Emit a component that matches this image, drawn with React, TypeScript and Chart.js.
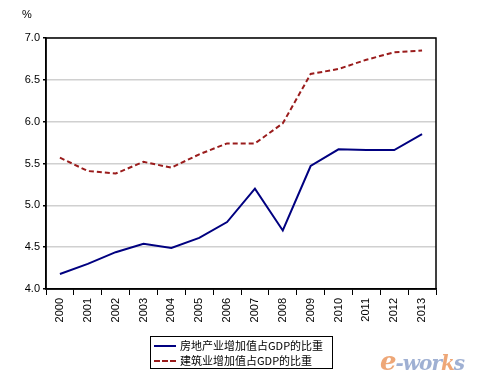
import React, { useEffect, useRef } from "react";
import { Chart, registerables } from "chart.js";

Chart.register(...registerables);

const years = ["2000","2001","2002","2003","2004","2005","2006","2007","2008","2009","2010","2011","2012","2013"];
const realEstate = [4.18, 4.30, 4.44, 4.54, 4.49, 4.61, 4.80, 5.20, 4.70, 5.47, 5.67, 5.66, 5.66, 5.85];
const construction = [5.57, 5.41, 5.38, 5.52, 5.45, 5.61, 5.74, 5.74, 5.98, 6.57, 6.63, 6.74, 6.83, 6.85];
const seriesNames = ["房地产业增加值占GDP的比重", "建筑业增加值占GDP的比重"];
const yUnit = "%";

const BLUE = "#000080";
const RED = "#9a1c1c";
const FONT = "'Liberation Sans', Arial, sans-serif";

const frame = {
  id: "frame",
  afterDatasetsDraw(chart: any) {
    const { ctx, chartArea: a } = chart;
    ctx.save();
    ctx.strokeStyle = "#000";
    ctx.lineWidth = 1.5;
    ctx.strokeRect(a.left, a.top, a.right - a.left, a.bottom - a.top);
    ctx.restore();
  },
};

export default function App() {
  const ref = useRef<HTMLCanvasElement | null>(null);
  useEffect(() => {
    if (!ref.current) return;
    const chart = new Chart(ref.current, {
      type: "line",
      data: {
        labels: years,
        datasets: [
          {
            label: seriesNames[0],
            data: realEstate,
            borderColor: BLUE,
            backgroundColor: BLUE,
            borderWidth: 2,
            pointRadius: 0,
            tension: 0,
          },
          {
            label: seriesNames[1],
            data: construction,
            borderColor: RED,
            backgroundColor: RED,
            borderWidth: 2,
            borderDash: [5, 3],
            pointRadius: 0,
            tension: 0,
          },
        ],
      },
      options: {
        animation: false,
        responsive: false,
        devicePixelRatio: 1,
        layout: { padding: { top: 38, right: 44, left: 0, bottom: 0 } },
        plugins: { legend: { display: false }, tooltip: { enabled: false } },
        scales: {
          x: {
            offset: true,
            grid: {
              offset: true,
              drawOnChartArea: false,
              drawTicks: true,
              tickLength: 6,
              tickColor: "#000",
              color: "#000",
            },
            border: { color: "#000", width: 1.5 },
            ticks: {
              color: "#000",
              font: { family: FONT, size: 11 },
              minRotation: 90,
              maxRotation: 90,
              autoSkip: false,
              padding: 3,
            },
            afterFit(scale: any) {
              scale.height = 92;
            },
          },
          y: {
            min: 4,
            max: 7,
            ticks: {
              stepSize: 0.5,
              color: "#000",
              font: { family: FONT, size: 11 },
              padding: 3,
              callback: (v: any) => Number(v).toFixed(1),
            },
            grid: {
              color: "#d0d0d0",
              lineWidth: 1.5,
              tickColor: "#000",
              tickLength: 3,
            },
            border: { color: "#000", width: 1.5 },
            afterFit(scale: any) {
              scale.width = 46;
            },
          },
        },
      },
      plugins: [frame],
    });
    return () => chart.destroy();
  }, []);

  return (
    <div style={{ position: "absolute", left: 0, top: 0, width: 480, height: 381, background: "#fff", overflow: "hidden" }}>
      <canvas ref={ref} width={480} height={381} style={{ position: "absolute", left: 0, top: 0 }} />
      <div style={{ position: "absolute", left: 22, top: 8, font: `11px ${FONT}`, color: "#000" }}>{yUnit}</div>
      <div
        style={{
          position: "absolute",
          left: 150,
          top: 336,
          width: 181,
          height: 31,
          border: "1px solid #000",
          fontFamily: "'Noto Sans CJK SC', sans-serif",
          fontSize: 11,
          color: "#000",
        }}
      >
        {[0, 1].map((i) => (
          <div key={i} style={{ position: "absolute", left: 3, top: 1 + i * 15, height: 15, display: "flex", alignItems: "center", whiteSpace: "nowrap" }}>
            <span
              style={{
                display: "inline-block",
                width: 22,
                height: 0,
                borderTop: i === 0 ? `2px solid ${BLUE}` : `2px dashed ${RED}`,
                marginRight: 4,
              }}
            />
            <span style={{ lineHeight: "15px" }}>{seriesNames[i]}</span>
          </div>
        ))}
      </div>
      <div
        style={{
          position: "absolute",
          left: 380,
          top: 346,
          fontFamily: "'DejaVu Serif', serif",
          fontStyle: "italic",
          fontWeight: "bold",
          fontSize: 20,
          letterSpacing: -1,
          opacity: 0.75,
        }}
      >
        <span style={{ color: "#e88a4a", fontSize: 26 }}>e</span>
        <span style={{ color: "#7f96c4" }}>-wor</span>
        <span style={{ color: "#e88a4a" }}>k</span>
        <span style={{ color: "#7f96c4" }}>s</span>
      </div>
    </div>
  );
}
